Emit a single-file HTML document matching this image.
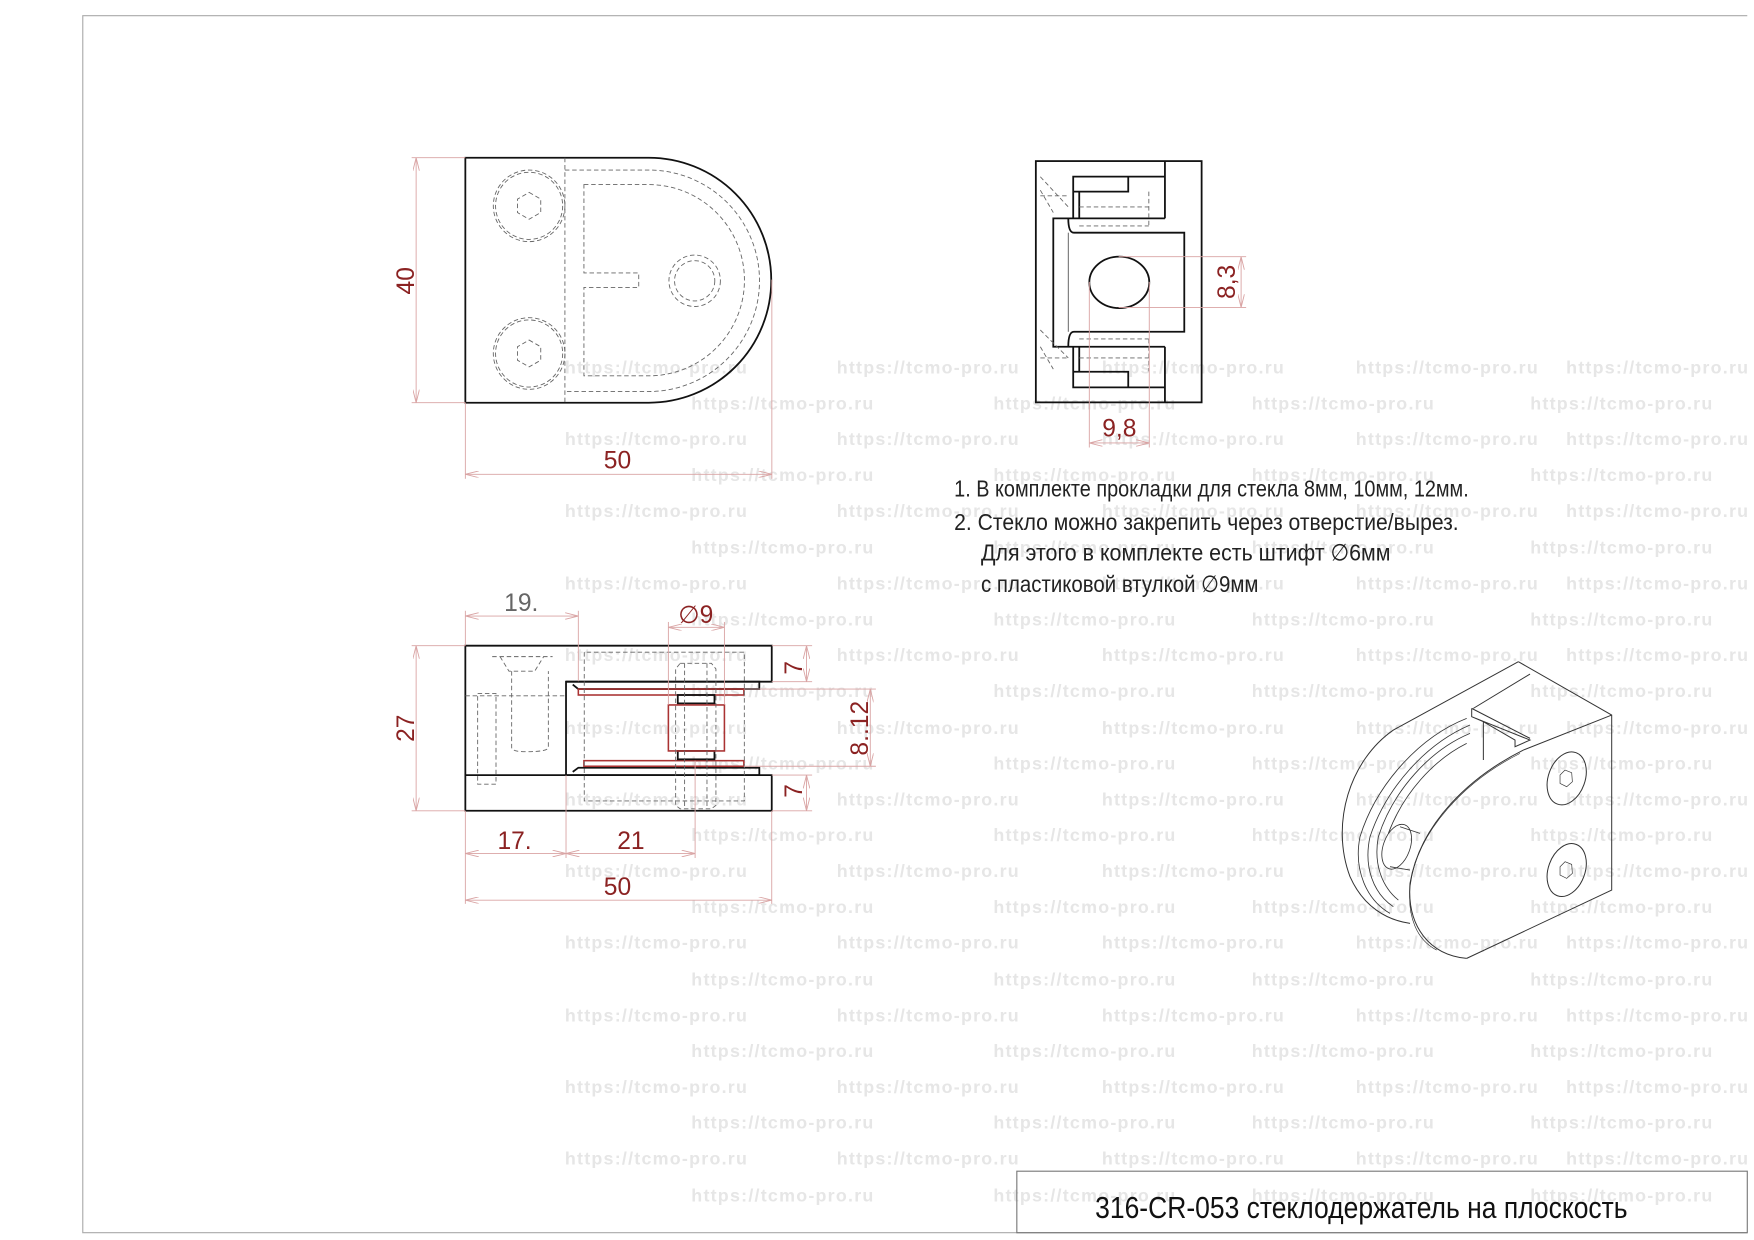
<!DOCTYPE html>
<html><head><meta charset="utf-8"><style>
html,body{margin:0;padding:0;background:#fff;}
svg{display:block;}
.t{font-family:"Liberation Sans Narrow","Liberation Sans",sans-serif;}
.wm{font-family:"Liberation Sans",sans-serif;font-weight:bold;font-size:16px;letter-spacing:1.1px;fill:#e6e6e6;}
.dim{stroke:#d9a3a3;stroke-width:0.8;fill:none;}
.dt{fill:#8b2222;font-size:22px;}
.ob{stroke:#111;stroke-width:1.6;fill:none;}
.th{stroke:#555;stroke-width:0.8;fill:none;}
.ds{stroke:#666;stroke-width:0.8;fill:none;stroke-dasharray:4 2.5;}
.rd{stroke:#a33;stroke-width:1.4;fill:none;}
</style></head><body>
<svg width="1754" height="1240" viewBox="0 0 1568 1108.5" xmlns="http://www.w3.org/2000/svg">
<defs>
<marker id="a" viewBox="0 0 12 6" refX="12" refY="3" markerWidth="12" markerHeight="6" markerUnits="userSpaceOnUse" orient="auto-start-reverse"><path d="M0,0 L12,3 L0,6" fill="none" stroke="#d9a3a3" stroke-width="0.8"/></marker>
</defs>
<rect x="0" y="0" width="1568" height="1108.5" fill="#fff"/>
<g class="wm">
<text x="505" y="334">https://tcmo-pro.ru</text><text x="748" y="334">https://tcmo-pro.ru</text><text x="985" y="334">https://tcmo-pro.ru</text><text x="1212" y="334">https://tcmo-pro.ru</text><text x="1400" y="334">https://tcmo-pro.ru</text>
<text x="618" y="366">https://tcmo-pro.ru</text><text x="888" y="366">https://tcmo-pro.ru</text><text x="1119" y="366">https://tcmo-pro.ru</text><text x="1368" y="366">https://tcmo-pro.ru</text>
<text x="505" y="398">https://tcmo-pro.ru</text><text x="748" y="398">https://tcmo-pro.ru</text><text x="985" y="398">https://tcmo-pro.ru</text><text x="1212" y="398">https://tcmo-pro.ru</text><text x="1400" y="398">https://tcmo-pro.ru</text>
<text x="618" y="430">https://tcmo-pro.ru</text><text x="888" y="430">https://tcmo-pro.ru</text><text x="1119" y="430">https://tcmo-pro.ru</text><text x="1368" y="430">https://tcmo-pro.ru</text>
<text x="505" y="462">https://tcmo-pro.ru</text><text x="748" y="462">https://tcmo-pro.ru</text><text x="985" y="462">https://tcmo-pro.ru</text><text x="1212" y="462">https://tcmo-pro.ru</text><text x="1400" y="462">https://tcmo-pro.ru</text>
<text x="618" y="495">https://tcmo-pro.ru</text><text x="888" y="495">https://tcmo-pro.ru</text><text x="1119" y="495">https://tcmo-pro.ru</text><text x="1368" y="495">https://tcmo-pro.ru</text>
<text x="505" y="527">https://tcmo-pro.ru</text><text x="748" y="527">https://tcmo-pro.ru</text><text x="985" y="527">https://tcmo-pro.ru</text><text x="1212" y="527">https://tcmo-pro.ru</text><text x="1400" y="527">https://tcmo-pro.ru</text>
<text x="618" y="559">https://tcmo-pro.ru</text><text x="888" y="559">https://tcmo-pro.ru</text><text x="1119" y="559">https://tcmo-pro.ru</text><text x="1368" y="559">https://tcmo-pro.ru</text>
<text x="505" y="591">https://tcmo-pro.ru</text><text x="748" y="591">https://tcmo-pro.ru</text><text x="985" y="591">https://tcmo-pro.ru</text><text x="1212" y="591">https://tcmo-pro.ru</text><text x="1400" y="591">https://tcmo-pro.ru</text>
<text x="618" y="623">https://tcmo-pro.ru</text><text x="888" y="623">https://tcmo-pro.ru</text><text x="1119" y="623">https://tcmo-pro.ru</text><text x="1368" y="623">https://tcmo-pro.ru</text>
<text x="505" y="656">https://tcmo-pro.ru</text><text x="748" y="656">https://tcmo-pro.ru</text><text x="985" y="656">https://tcmo-pro.ru</text><text x="1212" y="656">https://tcmo-pro.ru</text><text x="1400" y="656">https://tcmo-pro.ru</text>
<text x="618" y="688">https://tcmo-pro.ru</text><text x="888" y="688">https://tcmo-pro.ru</text><text x="1119" y="688">https://tcmo-pro.ru</text><text x="1368" y="688">https://tcmo-pro.ru</text>
<text x="505" y="720">https://tcmo-pro.ru</text><text x="748" y="720">https://tcmo-pro.ru</text><text x="985" y="720">https://tcmo-pro.ru</text><text x="1212" y="720">https://tcmo-pro.ru</text><text x="1400" y="720">https://tcmo-pro.ru</text>
<text x="618" y="752">https://tcmo-pro.ru</text><text x="888" y="752">https://tcmo-pro.ru</text><text x="1119" y="752">https://tcmo-pro.ru</text><text x="1368" y="752">https://tcmo-pro.ru</text>
<text x="505" y="784">https://tcmo-pro.ru</text><text x="748" y="784">https://tcmo-pro.ru</text><text x="985" y="784">https://tcmo-pro.ru</text><text x="1212" y="784">https://tcmo-pro.ru</text><text x="1400" y="784">https://tcmo-pro.ru</text>
<text x="618" y="816">https://tcmo-pro.ru</text><text x="888" y="816">https://tcmo-pro.ru</text><text x="1119" y="816">https://tcmo-pro.ru</text><text x="1368" y="816">https://tcmo-pro.ru</text>
<text x="505" y="848">https://tcmo-pro.ru</text><text x="748" y="848">https://tcmo-pro.ru</text><text x="985" y="848">https://tcmo-pro.ru</text><text x="1212" y="848">https://tcmo-pro.ru</text><text x="1400" y="848">https://tcmo-pro.ru</text>
<text x="618" y="881">https://tcmo-pro.ru</text><text x="888" y="881">https://tcmo-pro.ru</text><text x="1119" y="881">https://tcmo-pro.ru</text><text x="1368" y="881">https://tcmo-pro.ru</text>
<text x="505" y="913">https://tcmo-pro.ru</text><text x="748" y="913">https://tcmo-pro.ru</text><text x="985" y="913">https://tcmo-pro.ru</text><text x="1212" y="913">https://tcmo-pro.ru</text><text x="1400" y="913">https://tcmo-pro.ru</text>
<text x="618" y="945">https://tcmo-pro.ru</text><text x="888" y="945">https://tcmo-pro.ru</text><text x="1119" y="945">https://tcmo-pro.ru</text><text x="1368" y="945">https://tcmo-pro.ru</text>
<text x="505" y="977">https://tcmo-pro.ru</text><text x="748" y="977">https://tcmo-pro.ru</text><text x="985" y="977">https://tcmo-pro.ru</text><text x="1212" y="977">https://tcmo-pro.ru</text><text x="1400" y="977">https://tcmo-pro.ru</text>
<text x="618" y="1009">https://tcmo-pro.ru</text><text x="888" y="1009">https://tcmo-pro.ru</text><text x="1119" y="1009">https://tcmo-pro.ru</text><text x="1368" y="1009">https://tcmo-pro.ru</text>
<text x="505" y="1041">https://tcmo-pro.ru</text><text x="748" y="1041">https://tcmo-pro.ru</text><text x="985" y="1041">https://tcmo-pro.ru</text><text x="1212" y="1041">https://tcmo-pro.ru</text><text x="1400" y="1041">https://tcmo-pro.ru</text>
<text x="618" y="1074">https://tcmo-pro.ru</text><text x="888" y="1074">https://tcmo-pro.ru</text><text x="1119" y="1074">https://tcmo-pro.ru</text><text x="1368" y="1074">https://tcmo-pro.ru</text>
</g>

<path d="M1562,14 H74 V1102 H1562" stroke="#aaa" stroke-width="1" fill="none"/>
<rect x="909" y="1047" width="653" height="55" stroke="#777" stroke-width="1" fill="none"/>
<text class="t" x="1217" y="1089" font-size="27" text-anchor="middle" fill="#111" textLength="476" lengthAdjust="spacingAndGlyphs">316-CR-053 стеклодержатель на плоскость</text>

<!-- FRONT VIEW -->
<path class="ob" d="M416,141 H580 A109.5,109.5 0 0 1 580,360 H416 Z"/>
<line class="ds" x1="505" y1="141" x2="505" y2="360"/>
<path class="ds" d="M505,152 H580 A98.5,98.5 0 0 1 580,350 H505"/>
<path class="ds" d="M522,165 H580 A85.5,85.5 0 0 1 580,336 H522 V257 H571 V244 H522 Z"/>
<circle class="ds" cx="473" cy="184" r="32"/><circle class="ds" cx="473" cy="184" r="30"/>
<circle class="ds" cx="473" cy="316" r="32"/><circle class="ds" cx="473" cy="316" r="30"/>
<polygon class="ds" points="473,172 483.4,178 483.4,190 473,196 462.6,190 462.6,178"/>
<polygon class="ds" points="473,304 483.4,310 483.4,322 473,328 462.6,322 462.6,310"/>
<circle class="ds" cx="621" cy="251" r="23"/><circle class="ds" cx="621" cy="251" r="18"/>
<line class="dim" x1="416" y1="141" x2="368" y2="141"/><line class="dim" x1="416" y1="360" x2="368" y2="360"/>
<line class="dim" x1="372" y1="141" x2="372" y2="360" marker-start="url(#a)" marker-end="url(#a)"/>
<text class="t dt" transform="translate(370,251) rotate(-90)" text-anchor="middle">40</text>
<line class="dim" x1="416" y1="360" x2="416" y2="428"/><line class="dim" x1="690" y1="250" x2="690" y2="428"/>
<line class="dim" x1="416" y1="424" x2="690" y2="424" marker-start="url(#a)" marker-end="url(#a)"/>
<text class="t dt" x="552" y="419" text-anchor="middle">50</text>

<!-- TOP RIGHT VIEW -->
<rect class="ob" x="926" y="144" width="148.2" height="215.7"/>
<line class="ob" x1="1041.4" y1="144" x2="1041.4" y2="195.2"/>
<line class="ob" x1="1041.4" y1="310" x2="1041.4" y2="359.7"/>
<path class="ob" d="M959.4,195.2 V157.9 H1041.4 M959.4,157.9 V171.3 H1008.6 V157.9 M964.8,171.3 V195.2"/>
<path class="ob" d="M959.4,310 V346.3 H1041.4 M959.4,346.3 V332.3 H1008.6 V346.3 M964.8,332.3 V310"/>
<path class="ob" d="M1041.4,195.2 H941.6 V310 H1041.4"/>
<path class="ob" d="M955,195.2 Q955,208 960,208 H1058.7 V296.6 H960 Q955,296.6 955,310"/>
<ellipse class="ob" cx="1000.6" cy="252.4" rx="26.8" ry="23"/>
<path class="ds" d="M964.8,185 H1027 M964.8,202 H1027 M964.8,303 H1027 M964.8,320 H1027 M1027,171.3 V202 M1027,303 V332"/>
<path class="ds" d="M930,158 L955,185 M930,170 L941.6,190 M930,295 L955,320 M930,310 L941.6,330 M930,175 H955 M930,320 H955"/>
<line class="th" x1="955" y1="208" x2="955" y2="296.6"/>
<line class="dim" x1="1000" y1="229.5" x2="1114" y2="229.5"/><line class="dim" x1="1000" y1="274.8" x2="1114" y2="274.8"/>
<line class="dim" x1="1109.5" y1="229.5" x2="1109.5" y2="274.8" marker-start="url(#a)" marker-end="url(#a)"/>
<text class="t dt" transform="translate(1104,252) rotate(-90)" text-anchor="middle">8,3</text>
<line class="dim" x1="973.8" y1="252" x2="973.8" y2="400"/><line class="dim" x1="1027.4" y1="252" x2="1027.4" y2="400"/>
<line class="dim" x1="973.8" y1="396" x2="1027.4" y2="396" marker-start="url(#a)" marker-end="url(#a)"/>
<text class="t dt" x="1000.6" y="390" text-anchor="middle">9,8</text>

<g class="t" fill="#222" font-size="21">
<text x="853" y="444" textLength="460" lengthAdjust="spacingAndGlyphs">1. В комплекте прокладки для стекла 8мм, 10мм, 12мм.</text>
<text x="853" y="474" textLength="451" lengthAdjust="spacingAndGlyphs">2. Стекло можно закрепить через отверстие/вырез.</text>
<text x="877" y="501" textLength="366" lengthAdjust="spacingAndGlyphs">Для этого в комплекте есть штифт ∅6мм</text>
<text x="877" y="529" textLength="248" lengthAdjust="spacingAndGlyphs">с пластиковой втулкой ∅9мм</text>
</g>

<!-- SECTION VIEW -->
<path class="ob" d="M416,577.2 H689.9 V609.4 H506 V692.9 H689.9 V724.8 H416 Z"/>
<line class="ob" x1="416" y1="692.9" x2="506" y2="692.9"/>
<path class="ob" d="M506,609.4 H678.8 V616 H517 L512,612 M506,692.9 H678.8 V686.3 H517 L512,690"/>
<rect class="rd" x="517" y="616" width="148" height="5.3"/>
<rect class="rd" x="522" y="680" width="143" height="5"/>
<rect class="ob" x="605.9" y="621.3" width="32.8" height="7.5"/>
<rect class="ob" x="605.9" y="671.3" width="32.8" height="7.5"/>
<rect class="rd" x="597.5" y="630.2" width="50.1" height="41.1"/>
<path class="ds" d="M427,620 H443.4 V701 H427 Z M416,622 H506"/>
<path class="ds" d="M447,587 L455,600 H478 L486,587 M457.4,600 V668 Q457.4,672 470,672 Q490.2,672 490.2,668 V600 M440,587 H494"/>
<path class="ds" d="M522.3,583 V716 H665.4 V583 Z"/>
<path class="ds" d="M608,593 H636 L640,598 V720 L636,723 H608 L604,720 V598 Z M612,593 V723 M632,593 V723"/>
<line class="dim" x1="416" y1="577.2" x2="368" y2="577.2"/><line class="dim" x1="416" y1="724.8" x2="368" y2="724.8"/>
<line class="dim" x1="372" y1="577.2" x2="372" y2="724.8" marker-start="url(#a)" marker-end="url(#a)"/>
<text class="t dt" transform="translate(370,651) rotate(-90)" text-anchor="middle">27</text>
<line class="dim" x1="416" y1="546" x2="416" y2="577"/><line class="dim" x1="517" y1="546" x2="517" y2="609"/>
<line class="dim" x1="416" y1="550.7" x2="517" y2="550.7" marker-start="url(#a)" marker-end="url(#a)"/>
<text class="t dt" x="466" y="546" text-anchor="middle" style="fill:#666">19.</text>
<line class="dim" x1="597.5" y1="556" x2="597.5" y2="630"/><line class="dim" x1="647.6" y1="556" x2="647.6" y2="630"/>
<line class="dim" x1="597.5" y1="560.8" x2="647.6" y2="560.8" marker-start="url(#a)" marker-end="url(#a)"/>
<text class="t dt" x="622" y="557" text-anchor="middle" font-size="17">∅9</text>
<line class="dim" x1="690" y1="577.2" x2="726" y2="577.2"/><line class="dim" x1="690" y1="609.4" x2="726" y2="609.4"/>
<line class="dim" x1="721" y1="577.2" x2="721" y2="609.4" marker-start="url(#a)" marker-end="url(#a)"/>
<text class="t dt" transform="translate(717,597) rotate(-90)" text-anchor="middle">7</text>
<line class="dim" x1="690" y1="692.9" x2="726" y2="692.9"/><line class="dim" x1="690" y1="724.8" x2="726" y2="724.8"/>
<line class="dim" x1="721" y1="692.9" x2="721" y2="724.8" marker-start="url(#a)" marker-end="url(#a)"/>
<text class="t dt" transform="translate(717,707) rotate(-90)" text-anchor="middle">7</text>
<line class="dim" x1="665" y1="616" x2="783" y2="616"/><line class="dim" x1="665" y1="685" x2="783" y2="685"/>
<line class="dim" x1="778" y1="616" x2="778" y2="685" marker-start="url(#a)" marker-end="url(#a)"/>
<text class="t dt" transform="translate(776,651) rotate(-90)" text-anchor="middle">8..12</text>
<line class="dim" x1="416" y1="725" x2="416" y2="808"/><line class="dim" x1="506" y1="693" x2="506" y2="767"/><line class="dim" x1="621.4" y1="680" x2="621.4" y2="767"/><line class="dim" x1="689.9" y1="725" x2="689.9" y2="808"/>
<line class="dim" x1="416" y1="763" x2="506" y2="763" marker-start="url(#a)" marker-end="url(#a)"/>
<line class="dim" x1="506" y1="763" x2="621.4" y2="763" marker-start="url(#a)" marker-end="url(#a)"/>
<text class="t dt" x="460" y="759" text-anchor="middle">17.</text>
<text class="t dt" x="564" y="759" text-anchor="middle">21</text>
<line class="dim" x1="416" y1="804.7" x2="689.9" y2="804.7" marker-start="url(#a)" marker-end="url(#a)"/>
<text class="t dt" x="552" y="800" text-anchor="middle">50</text>

<!-- ISO VIEW -->
<g transform="translate(1171.1,581.1) scale(0.298)" fill="none" stroke="#333" stroke-width="3">
<path d="M625,35 L905,195 V720 L470,925"/>
<path d="M625,35 L250,240 C120,330 60,520 120,680 C160,770 230,810 300,820"/>
<path d="M660,72 L490,175"/>
<path d="M905,195 L640,300 C480,380 330,520 300,700 C290,830 360,915 470,925"/>
<path d="M630,310 C470,390 320,540 300,710 C292,800 320,870 380,900" stroke-width="2"/>
<path d="M485,175 V200 L660,270 L615,290 V270 L520,215 V330 M485,200 L520,215 M485,175 L660,265"/>
<path d="M470,205 C330,260 200,400 150,560 C130,660 170,750 240,790" stroke-width="2.5"/>
<path d="M480,225 C350,280 230,410 180,560 C160,650 190,730 250,770" stroke-width="2.5"/>
<path d="M480,250 C360,300 250,420 205,560 C190,640 215,710 265,750" stroke-width="2.5"/>
<path d="M470,280 C370,330 280,430 235,550" stroke-width="2.5"/>
<ellipse cx="260" cy="590" rx="40" ry="70" transform="rotate(20 260 590)" stroke-width="2.5"/>
<path d="M270,530 L330,550 M240,650 L300,660" stroke-width="2.5"/>
<ellipse cx="770" cy="385" rx="55" ry="82" transform="rotate(20 770 385)"/>
<ellipse cx="770" cy="660" rx="55" ry="82" transform="rotate(20 770 660)"/>
<polygon points="765,360 785,368 787,395 770,410 750,400 750,375" stroke-width="2"/>
<polygon points="765,635 785,643 787,670 770,685 750,675 750,650" stroke-width="2"/>
</g>
</svg>
</body></html>
